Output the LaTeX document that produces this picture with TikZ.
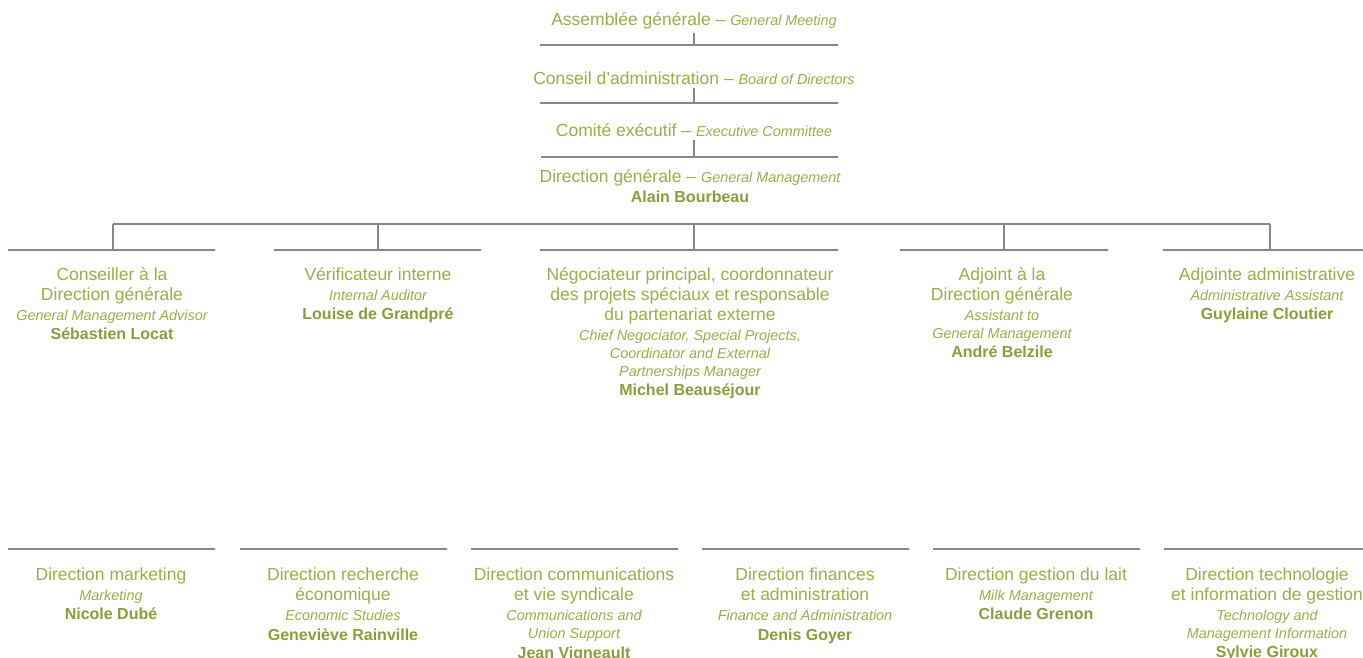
\documentclass[tikz,border=0pt]{standalone}
\usepackage{fontspec}
\setmainfont{Liberation Sans}
\usetikzlibrary{positioning}
\definecolor{olivetext}{RGB}{152,174,72}
\definecolor{olivename}{RGB}{135,158,58}
\definecolor{rulegray}{RGB}{135,135,135}
\newcommand{\frtxt}{\fontsize{17.5}{20}\selectfont\upshape\mdseries}
\newcommand{\entxt}{\fontsize{14.4}{18}\selectfont\itshape\mdseries}
\newcommand{\nametxt}{\fontsize{16}{19}\selectfont\upshape\bfseries\color{olivename}}

\begin{document}
\begin{tikzpicture}[
    x=1pt,y=-1pt,
    title/.style={font=\frtxt,text=olivetext,inner sep=0pt,anchor=base},
    post/.style={font=\frtxt,text=olivetext,inner sep=0pt,align=center,anchor=north},
    bar/.style={draw=rulegray,line width=1.3pt,minimum height=0pt,inner sep=0pt},
    link/.style={draw=rulegray,line width=1.3pt}
]
    \useasboundingbox (0,0) rectangle (1363,658);
    \clip (0,0) rectangle (1363,658);
    % governance
    \node[title] (agm) at (694,26) {Assemblée générale -- {\entxt General Meeting}};
    \node[bar,minimum width=298pt] (agmbar) at (689,45) {};
    \node[title] (board) at (694,85) {Conseil d'administration -- {\entxt Board of Directors}};
    \node[bar,minimum width=298pt] (boardbar) at (689,103) {};
    \node[title] (excom) at (694,137) {Comité exécutif -- {\entxt Executive Committee}};
    \node[bar,minimum width=297pt] (excombar) at (689.5,157) {};
    \node[post] (dg) at (690,168) {\strut Direction générale -- {\entxt General Management}\\ \nametxt Alain Bourbeau};
    \draw[link,shorten <=3pt] (agm) -- (agm |- agmbar);
    \draw[link,shorten <=3pt] (board) -- (board |- boardbar);
    \draw[link,shorten <=3pt] (excom) -- (excom |- excombar);

    % staff
    \coordinate (j1) at (113,224);
    \coordinate (j2) at (378,224);
    \coordinate (j3) at (694,224);
    \coordinate (j4) at (1004,224);
    \coordinate (j5) at (1270,224);
    \node[bar,minimum width=207pt] (advisorbar) at (111.5,250) {};
    \node[bar,minimum width=207pt] (auditorbar) at (377.5,250) {};
    \node[bar,minimum width=298pt] (negobar) at (689,250) {};
    \node[bar,minimum width=208pt] (assistbar) at (1004,250) {};
    \node[bar,minimum width=200pt] (adminbar) at (1263,250) {};
    \draw[link] (j1) -- (j5);
    \draw[link] (j1) -- (j1 |- advisorbar);
    \draw[link] (j2) -- (j2 |- auditorbar);
    \draw[link] (j3) -- (j3 |- negobar);
    \draw[link] (j4) -- (j4 |- assistbar);
    \draw[link] (j5) -- (j5 |- adminbar);
    \node[post] (advisor) at (112,266) {\strut Conseiller à la\\ Direction générale\\ \entxt General Management Advisor\\[-1pt] \nametxt Sébastien Locat};
    \node[post] (auditor) at (378,266) {\strut Vérificateur interne\\ \entxt Internal Auditor\\[-1pt] \nametxt Louise de Grandpré};
    \node[post] (nego) at (690,266) {\strut Négociateur principal, coordonnateur\\ des projets spéciaux et responsable\\ du partenariat externe\\ \entxt Chief Negociator, Special Projects,\\[-2pt] \entxt Coordinator and External\\[-2pt] \entxt Partnerships Manager\\[-1pt] \nametxt Michel Beauséjour};
    \node[post] (assist) at (1002,266) {\strut Adjoint à la\\ Direction générale\\ \entxt Assistant to\\[-2pt] \entxt General Management\\[-1pt] \nametxt André Belzile};
    \node[post] (admin) at (1267,266) {\strut Adjointe administrative\\ \entxt Administrative Assistant\\[-1pt] \nametxt Guylaine Cloutier};

    % directions
    \node[bar,minimum width=207pt] (marketbar) at (111.5,549) {};
    \node[bar,minimum width=207pt] (researchbar) at (343.5,549) {};
    \node[bar,minimum width=207pt] (commsbar) at (574.5,549) {};
    \node[bar,minimum width=207pt] (financebar) at (805.5,549) {};
    \node[bar,minimum width=207pt] (milkbar) at (1036.5,549) {};
    \node[bar,minimum width=199pt] (techbar) at (1263.5,549) {};
    \node[post] (market) at (111,566) {\strut Direction marketing\\ \entxt Marketing\\[-1pt] \nametxt Nicole Dubé};
    \node[post] (research) at (343,566) {\strut Direction recherche\\ économique\\ \entxt Economic Studies\\ \nametxt Geneviève Rainville};
    \node[post] (comms) at (574,566) {\strut Direction communications\\ et vie syndicale\\ \entxt Communications and\\[-2pt] \entxt Union Support\\ \nametxt Jean Vigneault};
    \node[post] (finance) at (805,566) {\strut Direction finances\\ et administration\\ \entxt Finance and Administration\\ \nametxt Denis Goyer};
    \node[post] (milk) at (1036,566) {\strut Direction gestion du lait\\ \entxt Milk Management\\[-1pt] \nametxt Claude Grenon};
    \node[post] (tech) at (1267,566) {\strut Direction technologie\\ et information de gestion\\ \entxt Technology and\\[-2pt] \entxt Management Information\\[-1pt] \nametxt Sylvie Giroux};
\end{tikzpicture}
\end{document}
